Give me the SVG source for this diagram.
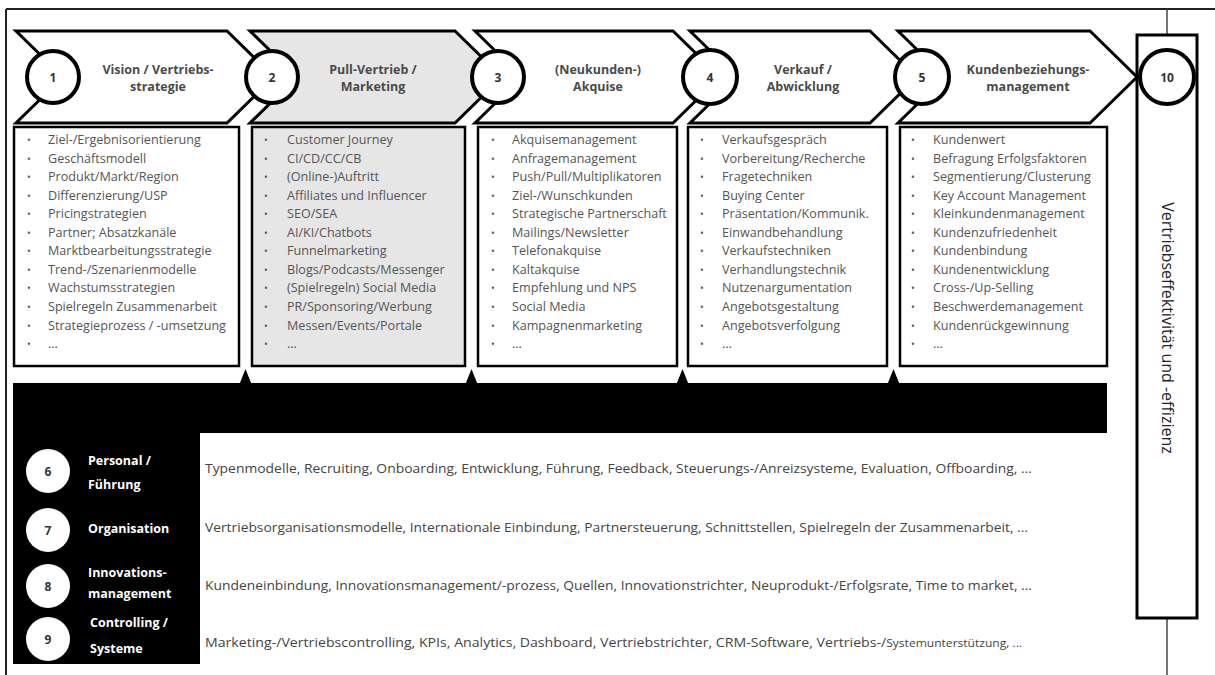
<svg xmlns="http://www.w3.org/2000/svg" width="1215" height="675" viewBox="0 0 1215 675">
<style>
.frame{stroke:#222;stroke-width:2;fill:none}
.chev{stroke:#000;stroke-width:3;stroke-linejoin:miter;fill:#fff}
.chev.grey{fill:#e6e6e6}
.ring{stroke:#000;stroke-width:4;fill:#fff}
.num{font-family:"Open Sans","Liberation Sans",sans-serif;font-weight:bold;font-size:12px;fill:#333;text-anchor:middle}
.title{font-family:"Open Sans","Liberation Sans",sans-serif;font-weight:bold;font-size:12.5px;fill:#4a4a4a;text-anchor:middle}
.box{stroke:#000;stroke-width:2.5;fill:#fff}
.box.grey{fill:#e6e6e6}
.item{font-family:"Open Sans","Liberation Sans",sans-serif;font-size:12.6px;fill:#555}
.bul{font-family:"Open Sans","Liberation Sans",sans-serif;font-size:10px;fill:#555}
.lbl{font-family:"Open Sans","Liberation Sans",sans-serif;font-weight:bold;font-size:12.5px;fill:#fff}
.wnum{font-family:"Open Sans","Liberation Sans",sans-serif;font-weight:bold;font-size:12px;fill:#333;text-anchor:middle}
.row{font-family:"Open Sans","Liberation Sans",sans-serif;font-size:13.5px;fill:#444}
.vert{font-family:"Open Sans","Liberation Sans",sans-serif;font-size:16px;fill:#222;text-anchor:middle}
</style>

<g id="frame">
<line class="frame" x1="6" y1="9" x2="1215" y2="9"/>
<line class="frame" x1="6" y1="9" x2="6" y2="675"/>
<line stroke="#444" stroke-width="1.5" x1="1167" y1="9" x2="1167" y2="35"/>
<line stroke="#444" stroke-width="1.5" x1="1167" y1="618" x2="1167" y2="675"/>
</g>

<g id="stage1">
<path class="chev" d="M16,31 H227 L274,77 L227,123 H16 L63,77 Z"/>
<circle class="ring" cx="53" cy="77" r="26"/>
<text class="num" x="53" y="81.5">1</text>
<text class="title" x="158" y="74">Vision / Vertriebs-</text>
<text class="title" x="158" y="91">strategie</text>
</g>
<g id="stage2">
<path class="chev grey" d="M250,31 H455 L502,77 L455,123 H250 L297,77 Z"/>
<circle class="ring" cx="272" cy="77" r="26"/>
<text class="num" x="272" y="81.5">2</text>
<text class="title" x="373" y="74">Pull-Vertrieb /</text>
<text class="title" x="373" y="91">Marketing</text>
</g>
<g id="stage3">
<path class="chev" d="M475,31 H673 L720,77 L673,123 H475 L522,77 Z"/>
<circle class="ring" cx="498" cy="77" r="26"/>
<text class="num" x="498" y="81.5">3</text>
<text class="title" x="598" y="74">(Neukunden-)</text>
<text class="title" x="598" y="91">Akquise</text>
</g>
<g id="stage4">
<path class="chev" d="M690,31 H870 L917,77 L870,123 H690 L737,77 Z"/>
<circle class="ring" cx="710" cy="77" r="27"/>
<text class="num" x="710" y="81.5">4</text>
<text class="title" x="803" y="74">Verkauf /</text>
<text class="title" x="803" y="91">Abwicklung</text>
</g>
<g id="stage5">
<path class="chev" d="M898,31 H1090 L1137,77 L1090,123 H898 L945,77 Z"/>
<circle class="ring" cx="922" cy="77" r="27"/>
<text class="num" x="922" y="81.5">5</text>
<text class="title" x="1028" y="74">Kundenbeziehungs-</text>
<text class="title" x="1028" y="91">management</text>
</g>

<g id="node10">
<rect x="1137" y="35" width="60" height="583" fill="#fff" stroke="#000" stroke-width="3"/>
<circle class="ring" cx="1167" cy="77" r="27"/>
<text class="num" x="1167" y="81.5">10</text>
<text class="vert" transform="translate(1167,328) rotate(90)" x="0" y="5.5">Vertriebseffektivität und -effizienz</text>
</g>

<g id="box1">
<rect class="box" x="14" y="127" width="225" height="239"/>
<text class="bul"><tspan x="27" y="144">•</tspan><tspan x="27" dy="18.55">•</tspan><tspan x="27" dy="18.55">•</tspan><tspan x="27" dy="18.55">•</tspan><tspan x="27" dy="18.55">•</tspan><tspan x="27" dy="18.55">•</tspan><tspan x="27" dy="18.55">•</tspan><tspan x="27" dy="18.55">•</tspan><tspan x="27" dy="18.55">•</tspan><tspan x="27" dy="18.55">•</tspan><tspan x="27" dy="18.55">•</tspan><tspan x="27" dy="18.55">•</tspan></text>
<text class="item"><tspan x="48" y="144">Ziel-/Ergebnisorientierung</tspan><tspan x="48" dy="18.55">Geschäftsmodell</tspan><tspan x="48" dy="18.55">Produkt/Markt/Region</tspan><tspan x="48" dy="18.55">Differenzierung/USP</tspan><tspan x="48" dy="18.55">Pricingstrategien</tspan><tspan x="48" dy="18.55">Partner; Absatzkanäle</tspan><tspan x="48" dy="18.55">Marktbearbeitungsstrategie</tspan><tspan x="48" dy="18.55">Trend-/Szenarienmodelle</tspan><tspan x="48" dy="18.55">Wachstumsstrategien</tspan><tspan x="48" dy="18.55">Spielregeln Zusammenarbeit</tspan><tspan x="48" dy="18.55">Strategieprozess / -umsetzung</tspan><tspan x="48" dy="18.55">...</tspan></text>
</g>
<g id="box2">
<rect class="box grey" x="252" y="127" width="213" height="239"/>
<text class="bul"><tspan x="264" y="144">•</tspan><tspan x="264" dy="18.55">•</tspan><tspan x="264" dy="18.55">•</tspan><tspan x="264" dy="18.55">•</tspan><tspan x="264" dy="18.55">•</tspan><tspan x="264" dy="18.55">•</tspan><tspan x="264" dy="18.55">•</tspan><tspan x="264" dy="18.55">•</tspan><tspan x="264" dy="18.55">•</tspan><tspan x="264" dy="18.55">•</tspan><tspan x="264" dy="18.55">•</tspan><tspan x="264" dy="18.55">•</tspan></text>
<text class="item"><tspan x="287" y="144">Customer Journey</tspan><tspan x="287" dy="18.55">CI/CD/CC/CB</tspan><tspan x="287" dy="18.55">(Online-)Auftritt</tspan><tspan x="287" dy="18.55">Affiliates und Influencer</tspan><tspan x="287" dy="18.55">SEO/SEA</tspan><tspan x="287" dy="18.55">AI/KI/Chatbots</tspan><tspan x="287" dy="18.55">Funnelmarketing</tspan><tspan x="287" dy="18.55">Blogs/Podcasts/Messenger</tspan><tspan x="287" dy="18.55">(Spielregeln) Social Media</tspan><tspan x="287" dy="18.55">PR/Sponsoring/Werbung</tspan><tspan x="287" dy="18.55">Messen/Events/Portale</tspan><tspan x="287" dy="18.55">...</tspan></text>
</g>
<g id="box3">
<rect class="box" x="478" y="127" width="199" height="239"/>
<text class="bul"><tspan x="491" y="144">•</tspan><tspan x="491" dy="18.55">•</tspan><tspan x="491" dy="18.55">•</tspan><tspan x="491" dy="18.55">•</tspan><tspan x="491" dy="18.55">•</tspan><tspan x="491" dy="18.55">•</tspan><tspan x="491" dy="18.55">•</tspan><tspan x="491" dy="18.55">•</tspan><tspan x="491" dy="18.55">•</tspan><tspan x="491" dy="18.55">•</tspan><tspan x="491" dy="18.55">•</tspan><tspan x="491" dy="18.55">•</tspan></text>
<text class="item"><tspan x="512" y="144">Akquisemanagement</tspan><tspan x="512" dy="18.55">Anfragemanagement</tspan><tspan x="512" dy="18.55">Push/Pull/Multiplikatoren</tspan><tspan x="512" dy="18.55">Ziel-/Wunschkunden</tspan><tspan x="512" dy="18.55">Strategische Partnerschaft</tspan><tspan x="512" dy="18.55">Mailings/Newsletter</tspan><tspan x="512" dy="18.55">Telefonakquise</tspan><tspan x="512" dy="18.55">Kaltakquise</tspan><tspan x="512" dy="18.55">Empfehlung und NPS</tspan><tspan x="512" dy="18.55">Social Media</tspan><tspan x="512" dy="18.55">Kampagnenmarketing</tspan><tspan x="512" dy="18.55">...</tspan></text>
</g>
<g id="box4">
<rect class="box" x="688" y="127" width="199" height="239"/>
<text class="bul"><tspan x="700" y="144">•</tspan><tspan x="700" dy="18.55">•</tspan><tspan x="700" dy="18.55">•</tspan><tspan x="700" dy="18.55">•</tspan><tspan x="700" dy="18.55">•</tspan><tspan x="700" dy="18.55">•</tspan><tspan x="700" dy="18.55">•</tspan><tspan x="700" dy="18.55">•</tspan><tspan x="700" dy="18.55">•</tspan><tspan x="700" dy="18.55">•</tspan><tspan x="700" dy="18.55">•</tspan><tspan x="700" dy="18.55">•</tspan></text>
<text class="item"><tspan x="722" y="144">Verkaufsgespräch</tspan><tspan x="722" dy="18.55">Vorbereitung/Recherche</tspan><tspan x="722" dy="18.55">Fragetechniken</tspan><tspan x="722" dy="18.55">Buying Center</tspan><tspan x="722" dy="18.55">Präsentation/Kommunik.</tspan><tspan x="722" dy="18.55">Einwandbehandlung</tspan><tspan x="722" dy="18.55">Verkaufstechniken</tspan><tspan x="722" dy="18.55">Verhandlungstechnik</tspan><tspan x="722" dy="18.55">Nutzenargumentation</tspan><tspan x="722" dy="18.55">Angebotsgestaltung</tspan><tspan x="722" dy="18.55">Angebotsverfolgung</tspan><tspan x="722" dy="18.55">...</tspan></text>
</g>
<g id="box5">
<rect class="box" x="900" y="127" width="207" height="239"/>
<text class="bul"><tspan x="911" y="144">•</tspan><tspan x="911" dy="18.55">•</tspan><tspan x="911" dy="18.55">•</tspan><tspan x="911" dy="18.55">•</tspan><tspan x="911" dy="18.55">•</tspan><tspan x="911" dy="18.55">•</tspan><tspan x="911" dy="18.55">•</tspan><tspan x="911" dy="18.55">•</tspan><tspan x="911" dy="18.55">•</tspan><tspan x="911" dy="18.55">•</tspan><tspan x="911" dy="18.55">•</tspan><tspan x="911" dy="18.55">•</tspan></text>
<text class="item"><tspan x="933" y="144">Kundenwert</tspan><tspan x="933" dy="18.55">Befragung Erfolgsfaktoren</tspan><tspan x="933" dy="18.55">Segmentierung/Clusterung</tspan><tspan x="933" dy="18.55">Key Account Management</tspan><tspan x="933" dy="18.55">Kleinkundenmanagement</tspan><tspan x="933" dy="18.55">Kundenzufriedenheit</tspan><tspan x="933" dy="18.55">Kundenbindung</tspan><tspan x="933" dy="18.55">Kundenentwicklung</tspan><tspan x="933" dy="18.55">Cross-/Up-Selling</tspan><tspan x="933" dy="18.55">Beschwerdemanagement</tspan><tspan x="933" dy="18.55">Kundenrückgewinnung</tspan><tspan x="933" dy="18.55">...</tspan></text>
</g>

<g id="foundation">
<path d="M13,383 H1107 V433 H200 V664 H13 Z" fill="#000"/>
</g>

<g id="connectors">
<polygon points="245.5,369 239.5,384 251.5,384" fill="#000"/>
<polygon points="471.5,369 465.5,384 477.5,384" fill="#000"/>
<polygon points="682.5,369 676.5,384 688.5,384" fill="#000"/>
<polygon points="893.5,369 887.5,384 899.5,384" fill="#000"/>
</g>

<g id="row6">
<circle cx="48" cy="471" r="22" fill="#fff"/>
<text class="wnum" x="48" y="475.5">6</text>
<text class="lbl" x="88" y="465">Personal /</text>
<text class="lbl" x="88" y="489">Führung</text>
<text class="row" x="205" y="473" textLength="827" lengthAdjust="spacingAndGlyphs">Typenmodelle, Recruiting, Onboarding, Entwicklung, Führung, Feedback, Steuerungs-/Anreizsysteme, Evaluation, Offboarding, ...</text>
</g>
<g id="row7">
<circle cx="48" cy="530" r="22" fill="#fff"/>
<text class="wnum" x="48" y="534.5">7</text>
<text class="lbl" x="88" y="533">Organisation</text>
<text class="row" x="205" y="532" textLength="823" lengthAdjust="spacingAndGlyphs">Vertriebsorganisationsmodelle, Internationale Einbindung, Partnersteuerung, Schnittstellen, Spielregeln der Zusammenarbeit, ...</text>
</g>
<g id="row8">
<circle cx="48" cy="586" r="22" fill="#fff"/>
<text class="wnum" x="48" y="590.5">8</text>
<text class="lbl" x="88" y="577">Innovations-</text>
<text class="lbl" x="88" y="598">management</text>
<text class="row" x="205" y="590" textLength="827" lengthAdjust="spacingAndGlyphs">Kundeneinbindung, Innovationsmanagement/-prozess, Quellen, Innovationstrichter, Neuprodukt-/Erfolgsrate, Time to market, ...</text>
</g>
<g id="row9">
<circle cx="48" cy="639" r="22" fill="#fff"/>
<text class="wnum" x="48" y="643.5">9</text>
<text class="lbl" x="90" y="627">Controlling /</text>
<text class="lbl" x="90" y="653">Systeme</text>
<text class="row" x="205" y="647" textLength="817" lengthAdjust="spacingAndGlyphs">Marketing-/Vertriebscontrolling, KPIs, Analytics, Dashboard, Vertriebstrichter, CRM-Software, Vertriebs-/<tspan font-size="11.5px">Systemunterstützung, ...</tspan></text>
</g>
</svg>
